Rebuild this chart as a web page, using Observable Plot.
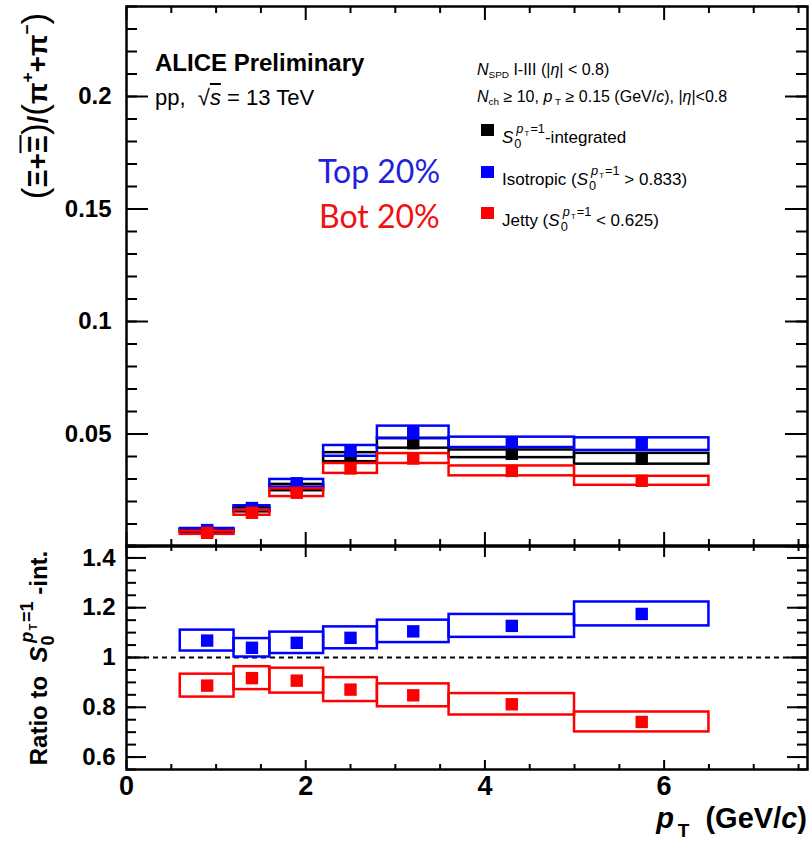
<!DOCTYPE html>
<html><head><meta charset="utf-8">
<script src="https://cdn.jsdelivr.net/npm/d3@7"></script>
<script src="https://cdn.jsdelivr.net/npm/@observablehq/plot@0.6"></script>
<style>
body{margin:0;background:#fff;}
#wrap{position:relative;width:810px;height:849px;overflow:hidden;font-family:"Liberation Sans",Arial,Helvetica,sans-serif;color:#000;}
.abs{position:absolute;white-space:nowrap;line-height:1;}
.pl{position:absolute;left:0;}
.sq{position:absolute;width:13px;height:12px;}
.sup{font-size:62%;vertical-align:0.75em;}
.sub{font-size:62%;vertical-align:-0.3em;}
.s0sub{font-size:75%;vertical-align:-0.35em;margin-left:1px;}
.s0sup{font-size:75%;vertical-align:0.8em;margin-left:-0.4em;}
.s0T{font-size:60%;vertical-align:-0.35em;margin:0 0.15em;}
</style></head><body><div id="wrap"></div>
<script>
// ---- data ----
const binLo = [0.6, 1.2, 1.6, 2.2, 2.8, 3.6, 5.0];
const binHi = [1.2, 1.6, 2.2, 2.8, 3.6, 5.0, 6.5];
const ptMean = [0.9, 1.4, 1.9, 2.5, 3.2, 4.3, 5.75];

const intVal = [0.0068, 0.0163, 0.0262, 0.0397, 0.0459, 0.0412, 0.0390];
const intSys = [0.0005, 0.0009, 0.0014, 0.0020, 0.0022, 0.0017, 0.0024];
const isoVal = [0.0073, 0.0171, 0.0281, 0.0425, 0.0507, 0.0463, 0.0455];
const isoSys = [0.0007, 0.0010, 0.0017, 0.0024, 0.0028, 0.0023, 0.0028];
const jetVal = [0.0061, 0.0150, 0.0239, 0.0347, 0.0391, 0.0336, 0.0292];
const jetSys = [0.0007, 0.0011, 0.0017, 0.0022, 0.0022, 0.0022, 0.0020];

const isoRatio = [1.068, 1.039, 1.059, 1.079, 1.105, 1.127, 1.175];
const isoRatioSys = [0.042, 0.037, 0.043, 0.044, 0.045, 0.046, 0.048];
const jetRatio = [0.887, 0.917, 0.907, 0.871, 0.848, 0.812, 0.741];
const jetRatioSys = [0.046, 0.046, 0.050, 0.048, 0.046, 0.043, 0.040];

const xTickLabels = [0, 2, 4, 6];
const yTopTickLabels = [0.05, 0.1, 0.15, 0.2];
const yRatioTickLabels = [0.6, 0.8, 1, 1.2, 1.4];

const xDomain = [0, 7.6];
const yTopDomain = [0, 0.24];
const yRatioDomain = [0.55, 1.45];

const BLACK = "#000000", BLUE = "#0000ff", RED = "#ff0000";

// ---- helpers ----
const rows = (vals, sys) => vals.map((v, i) => ({lo: binLo[i], hi: binHi[i], x: ptMean[i], v, s: sys[i]}));
function seriesMarks(data, color) {
  return [
    Plot.rect(data, {x1: "lo", x2: "hi", y1: d => d.v - d.s, y2: d => d.v + d.s, stroke: color, strokeWidth: 2.5, fill: "none"}),
    Plot.dot(data, {x: "x", y: "v", symbol: "square", r: 7, fill: color, stroke: "none"})
  ];
}
function frameTicks(o) {
  const {pw, ph, yMaj, yMin, xMaj, xMin, L} = o;
  const sw = 2;
  return [
    Plot.tickY(yMin, {y: d => d, insetRight: pw - L.yMin, strokeWidth: sw}),
    Plot.tickY(yMin, {y: d => d, insetLeft: pw - L.yMin, strokeWidth: sw}),
    Plot.tickY(yMaj, {y: d => d, insetRight: pw - L.yMaj, strokeWidth: sw}),
    Plot.tickY(yMaj, {y: d => d, insetLeft: pw - L.yMaj, strokeWidth: sw}),
    Plot.tickX(xMin, {x: d => d, insetTop: ph - L.xMinB, strokeWidth: sw}),
    Plot.tickX(xMin, {x: d => d, insetBottom: ph - L.xMinT, strokeWidth: sw}),
    Plot.tickX(xMaj, {x: d => d, insetTop: ph - L.xMajB, strokeWidth: sw}),
    Plot.tickX(xMaj, {x: d => d, insetBottom: ph - L.xMajT, strokeWidth: sw})
  ];
}
const fmt = d => String(+d.toFixed(2));

const xMinor = d3.range(0.5, 7.6, 0.5).filter(v => v % 2 !== 0);

// ---- top panel ----
const topPlot = Plot.plot({
  width: 810, height: 549,
  marginTop: 6, marginBottom: 3, marginLeft: 126, marginRight: 3,
  x: {domain: xDomain, axis: null},
  y: {domain: yTopDomain, axis: null},
  style: {fontFamily: "'Liberation Sans', Arial, sans-serif", fontSize: "24px", fontWeight: "bold", background: "transparent", color: "#000", overflow: "visible"},
  marks: [
    ...frameTicks({pw: 681, ph: 540,
      yMaj: d3.range(0, 0.241, 0.05), yMin: d3.range(0, 0.241, 0.01),
      xMaj: xTickLabels, xMin: xMinor,
      L: {yMaj: 22, yMin: 11, xMajB: 14, xMinB: 7, xMajT: 14, xMinT: 7}}),
    Plot.axisY({ticks: yTopTickLabels, anchor: "left", tickSize: 0, tickPadding: 15, tickFormat: fmt, fontSize: 24, fontWeight: "bold", label: null}),
    ...seriesMarks(rows(intVal, intSys), BLACK),
    ...seriesMarks(rows(isoVal, isoSys), BLUE),
    ...seriesMarks(rows(jetVal, jetSys), RED),
    Plot.frame({stroke: "#000", strokeWidth: 2.5})
  ]
});

// ---- ratio panel ----
const ratioPlot = Plot.plot({
  width: 810, height: 309,
  marginTop: 5, marginBottom: 80, marginLeft: 126, marginRight: 3,
  x: {domain: xDomain, axis: null},
  y: {domain: yRatioDomain, axis: null},
  style: {fontFamily: "'Liberation Sans', Arial, sans-serif", fontSize: "24px", fontWeight: "bold", background: "transparent", color: "#000", overflow: "visible"},
  marks: [
    ...frameTicks({pw: 681, ph: 224,
      yMaj: d3.range(0.6, 1.45, 0.2), yMin: d3.range(0.55, 1.451, 0.05),
      xMaj: xTickLabels, xMin: xMinor,
      L: {yMaj: 20, yMin: 10, xMajB: 9, xMinB: 5, xMajT: 12, xMinT: 6}}),
    Plot.ruleY([1], {stroke: "#000", strokeWidth: 2, strokeDasharray: "5,4"}),
    Plot.axisY({ticks: yRatioTickLabels, anchor: "left", tickSize: 0, tickPadding: 11, tickFormat: fmt, fontSize: 24, fontWeight: "bold", label: null}),
    Plot.axisX({ticks: xTickLabels, anchor: "bottom", tickSize: 0, tickPadding: 6, tickFormat: fmt, fontSize: 27, fontWeight: "bold", label: null}),
    ...seriesMarks(rows(isoRatio, isoRatioSys), BLUE),
    ...seriesMarks(rows(jetRatio, jetRatioSys), RED),
    Plot.frame({stroke: "#000", strokeWidth: 2.5})
  ]
});

const wrap = document.getElementById("wrap");
const d1 = document.createElement("div"); d1.className = "pl"; d1.style.top = "0px"; d1.appendChild(topPlot);
const d2 = document.createElement("div"); d2.className = "pl"; d2.style.top = "540px"; d2.appendChild(ratioPlot);
wrap.appendChild(d2); wrap.appendChild(d1);

// ---- text overlays ----
const S0 = '<i>S</i><span class="s0sub">0</span><span class="s0sup"><i>p</i><span class="s0T">T</span>=1</span>';
function add(html, css) {
  const e = document.createElement("div"); e.className = "abs"; e.innerHTML = html;
  Object.assign(e.style, css); wrap.appendChild(e); return e;
}
add("ALICE Preliminary", {left: "155px", top: "51px", fontSize: "24px", fontWeight: "bold"});
add('pp, &nbsp;√<span style="text-decoration:overline"><i>s</i></span> = 13 TeV', {left: "155px", top: "87px", fontSize: "22px"});
add("Top 20%", {left: "318px", top: "155px", fontSize: "32px", fontFamily: "Lato, 'Open Sans', sans-serif", color: "#1f1fdc"});
add("Bot 20%", {left: "319px", top: "200px", fontSize: "32px", fontFamily: "Lato, 'Open Sans', sans-serif", color: "#f01010"});

add('<i>N</i><span class="sub">SPD</span> I-III (|<i>η</i>| &lt; 0.8)', {left: "477px", top: "62px", fontSize: "16px"});
add('<i>N</i><span class="sub">ch</span> ≥ 10, <i>p</i><span class="sub">&nbsp;T</span> ≥ 0.15 (GeV/<i>c</i>), |<i>η</i>|&lt;0.8', {left: "477px", top: "89px", fontSize: "16px"});
const legend = [
  {c: BLACK, t: S0 + "-integrated", y: 124},
  {c: BLUE, t: "Isotropic (" + S0 + " &gt; 0.833)", y: 166},
  {c: RED, t: "Jetty (" + S0 + " &lt; 0.625)", y: 207}
];
legend.forEach(l => {
  const s = document.createElement("div"); s.className = "sq"; s.style.left = "481px"; s.style.top = l.y + "px"; s.style.background = l.c; wrap.appendChild(s);
  add(l.t, {left: "502px", top: (l.y - 1) + "px", fontSize: "17px"});
});

// axis titles
add('<span style="font-size:125%;font-weight:normal">(</span>Ξ+<span style="text-decoration:overline">Ξ</span><span style="font-size:125%;font-weight:normal">)</span>/<span style="font-size:125%;font-weight:normal">(</span>π<span class="sup">+</span>+π<span class="sup">−</span><span style="font-size:125%;font-weight:normal">)</span>',
  {left: "34px", top: "106px", fontSize: "28px", fontWeight: "bold", transform: "translate(-50%,-50%) rotate(-90deg)"});
add('Ratio to&nbsp; ' + S0 + '&nbsp;-int.',
  {left: "37px", top: "658px", fontSize: "24px", fontWeight: "bold", transform: "translate(-50%,-50%) rotate(-90deg)"});
add('<i>p</i><span style="font-size:65%;vertical-align:-0.5em;margin-left:0.2em">T</span>&nbsp; (GeV/<i>c</i>)', {right: "3px", top: "804px", fontSize: "29px", fontWeight: "bold"});
</script></body></html>
